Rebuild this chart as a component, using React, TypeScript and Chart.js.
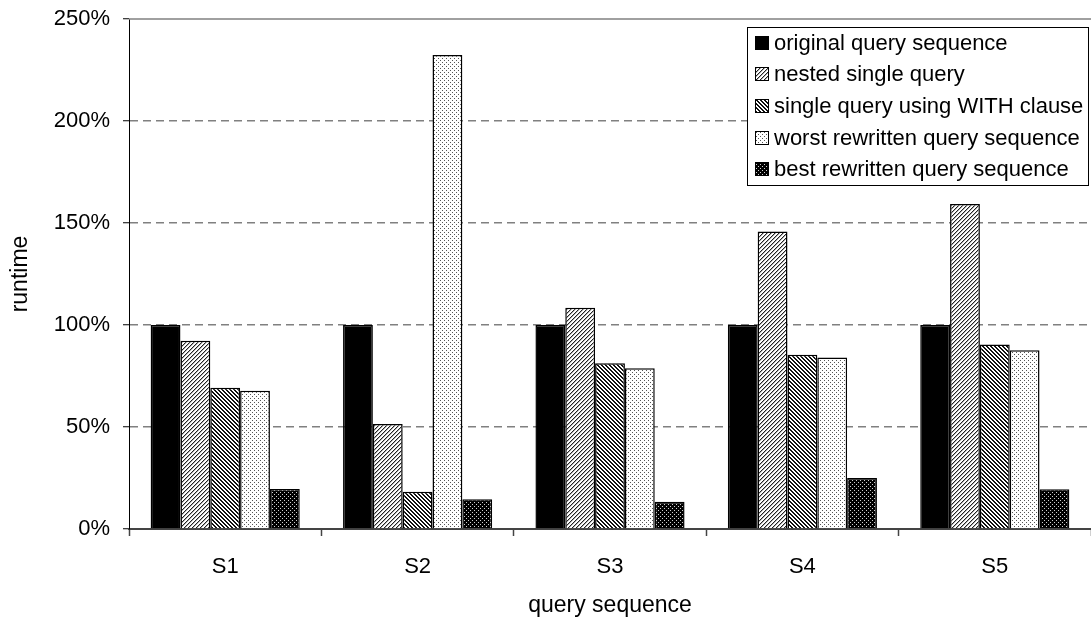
import React, { useEffect, useRef } from 'react';
import { Chart, registerables } from 'chart.js';

Chart.register(...registerables);

const categories = ['S1', 'S2', 'S3', 'S4', 'S5'];
const seriesNames = [
  'original query sequence',
  'nested single query',
  'single query using WITH clause',
  'worst rewritten query sequence',
  'best rewritten query sequence',
];
const original = [100, 100, 100, 100, 100];
const nested = [92.3, 51.5, 108.5, 145.8, 159.3];
const withClause = [69.3, 18.3, 81.2, 85.4, 90.5];
const worst = [67.8, 232.4, 78.8, 84.1, 87.6];
const best = [19.6, 14.6, 13.4, 25.0, 19.5];
const yTickValues = [0, 50, 100, 150, 200, 250];

const FAMILY = '"Liberation Sans", Arial, sans-serif';

function makePattern(size: number, bg: string, cells: [number, number, string][]) {
  const c = document.createElement('canvas');
  c.width = size;
  c.height = size;
  const g = c.getContext('2d')!;
  g.fillStyle = bg;
  g.fillRect(0, 0, size, size);
  cells.forEach(([x, y, col]) => {
    g.fillStyle = col;
    g.fillRect(x, y, 1, 1);
  });
  return g.createPattern(c, 'repeat')!;
}

function buildPatterns() {
  const fwd: [number, number, string][] = [];
  const back: [number, number, string][] = [];
  for (let y = 0; y < 4; y++) {
    for (let x = 0; x < 4; x++) {
      const s = (x + y) % 4;
      if (s === 3) fwd.push([x, y, '#222']);
      if (s === 0) fwd.push([x, y, '#b0b0b0']);
      const d = (x - y + 8) % 4;
      if (d === 0 || d === 1) back.push([x, y, '#111']);
    }
  }
  const worstP = makePattern(4, '#ffffff', [
    [0, 0, '#555'],
    [2, 2, '#555'],
  ]);
  const bestP = makePattern(4, '#000000', [
    [0, 0, '#d0d0d0'],
    [2, 2, '#d0d0d0'],
  ]);
  return [
    '#000000',
    makePattern(4, '#ffffff', fwd),
    makePattern(4, '#ffffff', back),
    worstP,
    bestP,
  ];
}

const boxLegend = {
  id: 'boxLegend',
  afterDraw(chart: any) {
    const ctx = chart.ctx;
    const x0 = 747;
    const y0 = 27;
    const w = 341;
    const h = 158;
    ctx.save();
    ctx.fillStyle = '#ffffff';
    ctx.fillRect(x0, y0, w, h);
    ctx.strokeStyle = '#000';
    ctx.lineWidth = 1;
    ctx.strokeRect(x0 + 0.5, y0 + 0.5, w, h);
    ctx.font = `22px ${FAMILY}`;
    ctx.textBaseline = 'middle';
    ctx.textAlign = 'left';
    chart.data.datasets.forEach((ds: any, i: number) => {
      const cy = 42.5 + i * 31.7;
      const sy = Math.round(cy - 7);
      ctx.fillStyle = ds.backgroundColor;
      ctx.fillRect(755, sy, 14, 14);
      ctx.strokeStyle = '#000';
      ctx.strokeRect(755.5, sy + 0.5, 13, 13);
      ctx.fillStyle = '#000';
      ctx.fillText(ds.label, 774, cy + 1);
    });
    ctx.restore();
  },
  beforeDatasetsDraw(chart: any) {
    const ctx = chart.ctx;
    const y = chart.scales.y.getPixelForValue(250);
    ctx.save();
    ctx.strokeStyle = '#808080';
    ctx.lineWidth = 1.5;
    ctx.beginPath();
    ctx.moveTo(chart.chartArea.left, y);
    ctx.lineTo(chart.chartArea.right, y);
    ctx.stroke();
    ctx.restore();
  },
};

export default function App() {
  const ref = useRef<HTMLCanvasElement>(null);
  useEffect(() => {
    document.body.style.margin = '0';
    const fills = buildPatterns();
    const series = [original, nested, withClause, worst, best];
    const font = { family: FAMILY, size: 22 };
    const titleFont = { family: FAMILY, size: 23 };
    const chart = new Chart(ref.current!, {
      type: 'bar',
      data: {
        labels: categories,
        datasets: series.map((d, i) => ({
          label: seriesNames[i],
          data: d,
          backgroundColor: fills[i] as any,
          borderColor: '#000',
          borderWidth: 1.5,
          categoryPercentage: 0.775,
          barPercentage: 1,
        })),
      },
      options: {
        animation: false,
        responsive: false,
        maintainAspectRatio: false,
        layout: { padding: { top: 19, right: 0, left: 0, bottom: 0 } },
        plugins: { legend: { display: false }, tooltip: { enabled: false } },
        scales: {
          x: {
            type: 'category',
            offset: true,
            grid: {
              display: true,
              offset: true,
              drawOnChartArea: false,
              drawTicks: true,
              tickLength: 7,
              tickColor: '#444',
              tickWidth: 1.5,
              color: '#444',
            },
            border: { display: true, color: '#444', width: 2 },
            ticks: { color: '#000', font, padding: 18, maxRotation: 0 },
            title: {
              display: true,
              text: 'query sequence',
              color: '#000',
              font: titleFont,
              padding: { top: 0, bottom: 4 },
            },
            afterFit: (s: any) => {
              s.height = 94;
              s.paddingLeft = 0;
              s.paddingRight = 0;
            },
          },
          y: {
            min: 0,
            max: 250,
            afterBuildTicks: (s: any) => {
              s.ticks = yTickValues.map((v) => ({ value: v }));
            },
            ticks: {
              color: '#000',
              font,
              padding: 13,
              callback: (v: any) => `${v}%`,
            },
            grid: {
              color: (c: any) => (c.tick && (c.tick.value === 250 || c.tick.value === 0) ? 'rgba(0,0,0,0)' : '#808080'),
              lineWidth: 1.5,
              tickBorderDash: [],
              tickColor: '#000',
              tickWidth: 1,
              tickLength: 6,
              drawTicks: true,
            },
            border: { display: true, color: '#000', width: 1, dash: [8, 5] },
            title: {
              display: true,
              text: 'runtime',
              color: '#000',
              font: titleFont,
              padding: { top: 7, bottom: 0 },
            },
            afterFit: (s: any) => {
              s.width = 129;
              s.paddingTop = 0;
              s.paddingBottom = 0;
            },
          },
        },
      },
      plugins: [boxLegend],
    });
    return () => chart.destroy();
  }, []);
  return <canvas ref={ref} width={1091} height={623} style={{ display: 'block' }} />;
}
